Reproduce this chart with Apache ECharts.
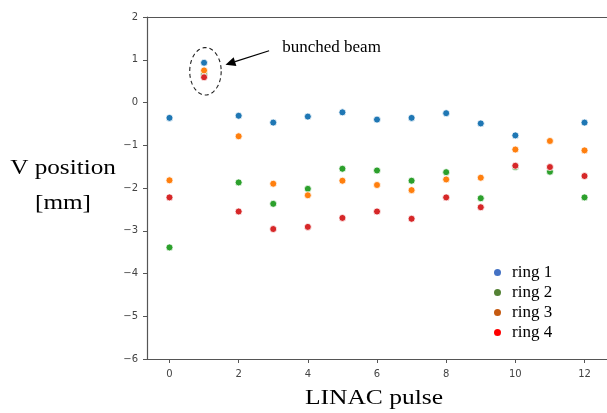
<!DOCTYPE html>
<html>
<head>
<meta charset="utf-8">
<script src="https://cdn.jsdelivr.net/npm/echarts@6/dist/echarts.min.js"></script>
<style>html,body{margin:0;padding:0;background:#fff}#c{width:607px;height:413px}</style>
</head>
<body>
<div id="c"></div>
<script>
const pulses = [0,1,2,3,4,5,6,7,8,9,10,11,12];
const ring1 = [-0.36, 0.93, -0.31, -0.47, -0.33, -0.23, -0.40, -0.36, -0.25, -0.49, -0.77, null, -0.47];
const ring2 = [-3.39, 0.66, -1.87, -2.37, -2.02, -1.55, -1.59, -1.83, -1.63, -2.24, -1.51, -1.62, -2.22];
const ring3 = [-1.82, 0.75, -0.79, -1.90, -2.17, -1.83, -1.93, -2.05, -1.80, -1.76, -1.10, -0.90, -1.12];
const ring4 = [-2.22, 0.59, -2.55, -2.96, -2.91, -2.70, -2.55, -2.72, -2.22, -2.45, -1.48, -1.51, -1.72];
const seriesNames = ['ring 1','ring 2','ring 3','ring 4'];
const yTicks = [2,1,0,-1,-2,-3,-4,-5,-6];
const xTicks = [0,2,4,6,8,10,12];
const annotText = 'bunched beam';
const yTitle = ['V position', '[mm]'];
const xTitle = 'LINAC pulse';

const pointColors = ['#1f77b4','#2ca02c','#ff7f0e','#d62728'];
const legendColors = ['#4472c4','#548235','#c55a11','#ff0000'];
const allData = [ring1, ring2, ring3, ring4];

function fmt(v){ return v < 0 ? '\u2212' + Math.abs(v) : String(v); }

const chart = echarts.init(document.getElementById('c'), null, {renderer:'canvas'});
const axisLineStyle = {color:'#555', width:1.2};
const series = allData.map((arr, i) => ({
  name: seriesNames[i],
  type: 'scatter',
  symbol: 'circle',
  symbolSize: 7,
  data: pulses.map((p, j) => arr[j] == null ? null : [p, arr[j]]).filter(d => d),
  itemStyle: {color: pointColors[i], borderColor:'#fff', borderWidth:0.8, opacity:1},
  emphasis: {disabled:true},
  z: 2 + i
}));

chart.setOption({
  animation: false,
  grid: {left:147, top:17, right:0, bottom:54, containLabel:false},
  xAxis: [{
    type:'value', min:-0.65, max:12.65, interval:2,
    axisLine:{show:true, onZero:false, lineStyle:axisLineStyle},
    axisTick:{show:true, length:4, lineStyle:{color:'#555'}, customValues: xTicks},
    axisLabel:{fontFamily:'DejaVu Sans', fontSize:10, color:'#444', margin:10, customValues: xTicks},
    splitLine:{show:false}
  },{
    type:'value', position:'top', min:-0.65, max:12.65,
    axisLine:{show:true, onZero:false, lineStyle:axisLineStyle},
    axisTick:{show:false}, axisLabel:{show:false}, splitLine:{show:false}
  }],
  yAxis: {
    type:'value', min:-6, max:2, interval:1,
    axisLine:{show:true, onZero:false, lineStyle:axisLineStyle},
    axisTick:{show:true, length:4, lineStyle:{color:'#555'}, customValues: yTicks},
    axisLabel:{fontFamily:'DejaVu Sans', fontSize:10, color:'#444', margin:9, formatter: fmt, customValues: yTicks},
    splitLine:{show:false}
  },
  legend: {
    show:true, orient:'vertical', left:489, top:259, itemGap:3,
    itemWidth:7, itemHeight:7, icon:'circle',
    textStyle:{fontFamily:'Liberation Serif', fontSize:17, color:'#000', padding:[0,0,0,6]},
    data: seriesNames.map((n,i) => ({name:n, itemStyle:{color:legendColors[i], borderWidth:0}}))
  },
  series: series
});

function drawAnnot(){
  const p = (x,y) => chart.convertToPixel({xAxisIndex:0, yAxisIndex:0}, [x,y]);
  const c = p(1.04, 0.73);
  const e = p(1.04 + 0.455, 0.73 + 0.555);
  const rx = e[0] - c[0], ry = c[1] - e[1];
  const pts = [];
  for (let k = 0; k <= 72; k++) {
    const t = k / 72 * Math.PI * 2;
    pts.push([c[0] + rx*Math.cos(t), c[1] + ry*Math.sin(t)]);
  }
  const tail = p(2.88, 1.21), head = p(1.62, 0.885);
  const dx = head[0]-tail[0], dy = head[1]-tail[1], L = Math.hypot(dx,dy);
  const ux = dx/L, uy = dy/L, hl = 10, hw = 4.5;
  const base = [head[0]-ux*hl, head[1]-uy*hl];
  const arrowHead = [head, [base[0]-uy*hw, base[1]+ux*hw], [base[0]+uy*hw, base[1]-ux*hw]];
  const tp = p(3.26, 1.28);
  const xAxisMid = (p(-0.65,0)[0] + p(12.65,0)[0]) / 2;
  chart.setOption({
    graphic: [
      {type:'polyline', shape:{points:pts}, style:{stroke:'#222', lineWidth:1.1, lineDash:[4,3], fill:null}, silent:true, z:10},
      {type:'line', shape:{x1:tail[0], y1:tail[1], x2:base[0], y2:base[1]}, style:{stroke:'#000', lineWidth:1.2}, silent:true, z:10},
      {type:'polygon', shape:{points:arrowHead}, style:{fill:'#000'}, silent:true, z:10},
      {type:'text', x: tp[0], y: tp[1], style:{text:annotText, font:'17px "Liberation Serif"', fill:'#000', verticalAlign:'middle'}, silent:true, z:10},
      {type:'text', x: 63, y: 168, scaleX:1.2, style:{text:yTitle[0], font:'21px "Liberation Serif"', fill:'#000', align:'center', verticalAlign:'middle'}, silent:true},
      {type:'text', x: 63, y: 203, scaleX:1.2, style:{text:yTitle[1], font:'21px "Liberation Serif"', fill:'#000', align:'center', verticalAlign:'middle'}, silent:true},
      {type:'text', x: xAxisMid - 3, y: 398, scaleX:1.16, style:{text:xTitle, font:'22px "Liberation Serif"', fill:'#000', align:'center', verticalAlign:'middle'}, silent:true}
    ]
  });
}
drawAnnot();
</script>
</body>
</html>
